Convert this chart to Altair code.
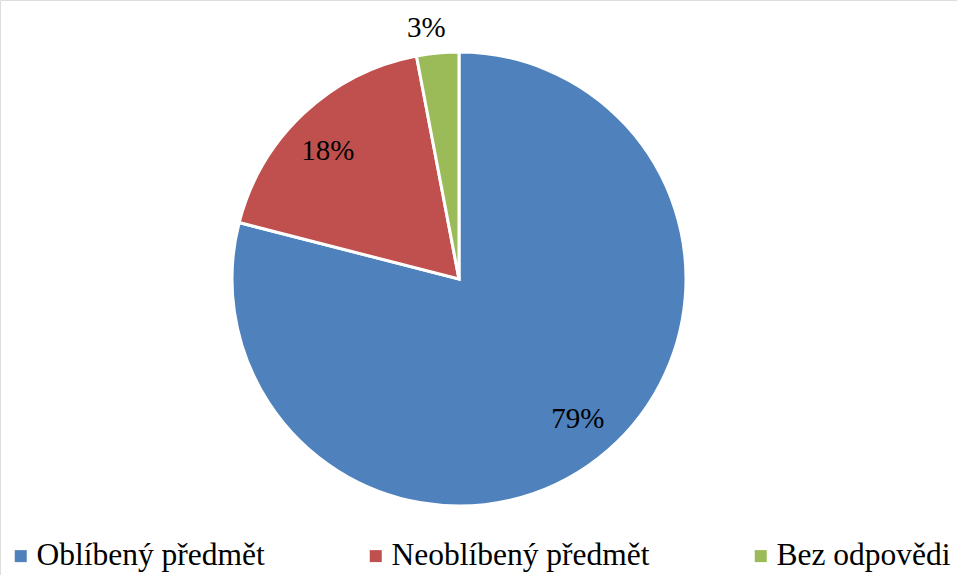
import altair as alt
import pandas as pd

categories = ["Oblíbený předmět", "Neoblíbený předmět", "Bez odpovědi"]
values = [79, 18, 3]
labels = ["79%", "18%", "3%"]
colors = ["#4F81BD", "#C0504D", "#9BBB59"]

df = pd.DataFrame({"cat": categories, "val": values, "label": labels, "order": [0, 1, 2]})

CX, CY, R = 459, 279, 227
FONT = "serif"

arc = alt.Chart(df).mark_arc(outerRadius=R, stroke="white", strokeWidth=3).encode(
    theta=alt.Theta("val:Q", stack=True),
    order=alt.Order("order:Q"),
    x=alt.value(CX),
    y=alt.value(CY),
    color=alt.Color(
        "cat:N",
        scale=alt.Scale(domain=categories, range=colors),
        sort=categories,
        legend=alt.Legend(
            title=None,
            orient="none",
            legendX=5,
            legendY=540,
            direction="horizontal",
            symbolType="square",
            symbolSize=144,
            symbolStrokeWidth=0,
            labelFont=FONT,
            labelFontSize=31.5,
            labelColor="black",
            columnPadding=95,
            symbolOffset=0,
            labelOffset=0,
            labelLimit=400,
        ),
    ),
)

def lab(i, radius, dx=0, dy=0):
    return (
        alt.Chart(df)
        .transform_window(cum="sum(val)", sort=[alt.SortField("order")], frame=[None, 0])
        .transform_calculate(mid="datum.cum - datum.val / 2")
        .transform_filter(alt.datum.order == i)
        .mark_text(radius=radius, font=FONT, fontSize=29, color="black", dx=dx, dy=dy)
        .encode(
            theta=alt.Theta("mid:Q", scale=alt.Scale(domain=[0, 100])),
            x=alt.value(CX),
            y=alt.value(CY),
            text="label:N",
        )
    )

chart = alt.layer(
    arc,
    lab(0, 184, 6, -5),
    lab(1, 180, -8, 3),
    lab(2, 252, -9, 0),
).resolve_scale(theta="independent").properties(
    width=957, height=575, autosize=alt.AutoSizeParams(type="none"), padding=0
).configure_view(strokeWidth=0).configure(background="white")

chart.save("out.html", embed_options={"renderer": "svg", "actions": False})
